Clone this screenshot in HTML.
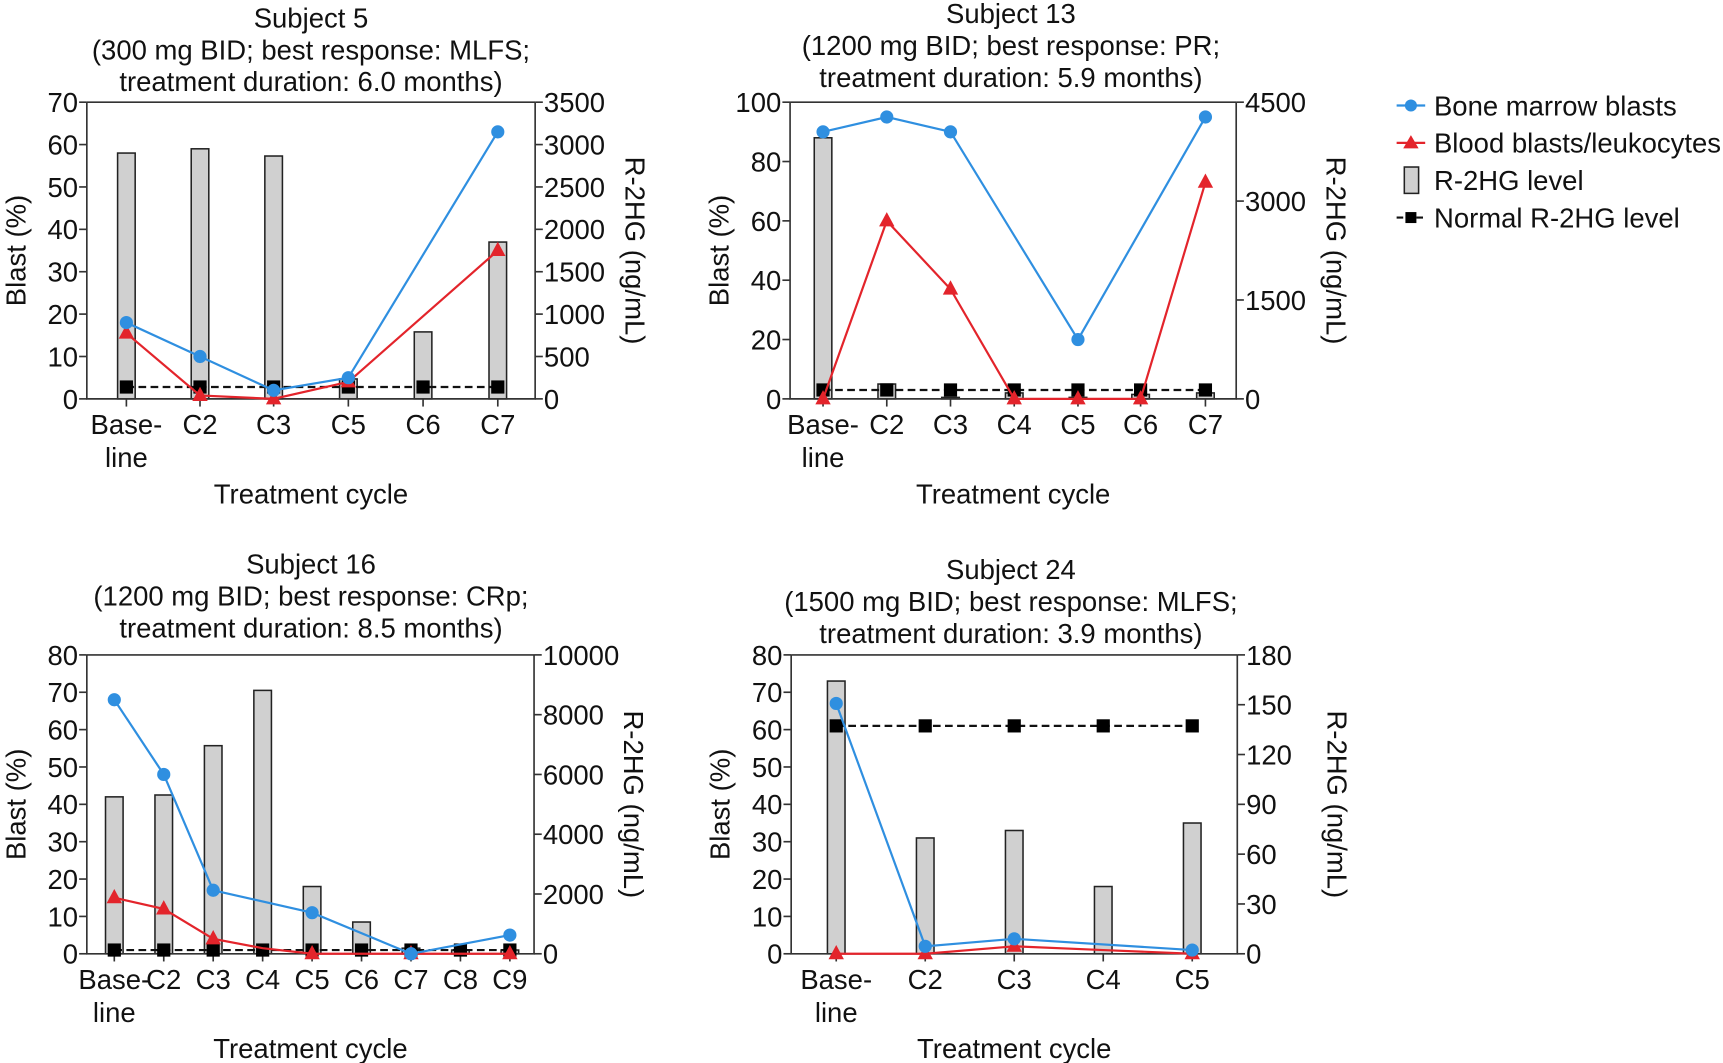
<!DOCTYPE html>
<html><head><meta charset="utf-8"><style>
html,body{margin:0;padding:0;background:#fff;}
svg{display:block;}
text{font-family:"Liberation Sans",Arial,sans-serif;fill:#111;}
</style></head><body>
<svg id="s" width="1723" height="1063" viewBox="0 0 1568 967.4" xmlns="http://www.w3.org/2000/svg"></svg>
<script>
const S=document.getElementById('s');let h='';
const BL='#2f8fe0',RD='#e3242b',FS=25;
function chart(c){
 const {L,R,T,B,cats,lmax,lstep,rmax,rstep,bars,norm,blue,red,title,tx,ty}=c;
 const yv=v=>B-(v/lmax)*(B-T);
 title.forEach((t,i)=>h+=`<text x="${tx}" y="${ty+i*29}" font-size="${FS}" text-anchor="middle">${t}</text>`);
 bars.forEach((v,i)=>{if(v==null)return;const x=cats[i].x;h+=`<rect x="${x-8}" y="${yv(v)}" width="16" height="${B-yv(v)}" fill="#d0d0d0" stroke="#222" stroke-width="1.4"/>`;});
 h+=`<path d="M${L},${T}H${R}M${L},${T}V${B}H${R}V${T}" fill="none" stroke="#333" stroke-width="1.5"/>`;
 for(let v=0;v<=lmax+1e-9;v+=lstep){const y=yv(v);h+=`<line x1="${L-7}" x2="${L}" y1="${y}" y2="${y}" stroke="#333" stroke-width="1.5"/><text x="${L-8}" y="${y+9}" font-size="${FS}" text-anchor="end">${v}</text>`;}
 for(let v=0;v<=rmax+1e-9;v+=rstep){const y=B-(v/rmax)*(B-T);h+=`<line x1="${R}" x2="${R+7}" y1="${y}" y2="${y}" stroke="#333" stroke-width="1.5"/><text x="${R+8}" y="${y+9}" font-size="${FS}">${v}</text>`;}
 cats.forEach(c=>{h+=`<line x1="${c.x}" x2="${c.x}" y1="${B}" y2="${B+7}" stroke="#333" stroke-width="1.5"/>`;
  if(c.l=='Base'){h+=`<text x="${c.x}" y="${B+32}" font-size="${FS}" text-anchor="middle">Base-</text><text x="${c.x}" y="${B+62}" font-size="${FS}" text-anchor="middle">line</text>`;}
  else h+=`<text x="${c.x}" y="${B+32}" font-size="${FS}" text-anchor="middle">${c.l}</text>`;});
 const mx=(L+R)/2;
 h+=`<text x="${mx}" y="${B+95}" font-size="${FS}" text-anchor="middle">Treatment cycle</text>`;
 h+=`<text transform="translate(${L-56},${(T+B)/2}) rotate(-90)" font-size="${FS}" text-anchor="middle">Blast (%)</text>`;
 h+=`<text transform="translate(${R+82},${(T+B)/2}) rotate(90)" font-size="${FS}" text-anchor="middle">R-2HG (ng/mL)</text>`;
 const np=cats.map(c=>[c.x,yv(norm)]);
 h+=`<polyline points="${np.map(p=>p.join(',')).join(' ')}" fill="none" stroke="#111" stroke-width="2" stroke-dasharray="7,4"/>`;
 np.forEach(p=>h+=`<rect x="${p[0]-6}" y="${p[1]-6}" width="12" height="12" fill="#000"/>`);
 const rp=[];red.forEach((v,i)=>{if(v!=null)rp.push([cats[i].x,yv(v),red.m?red.m[i]:1]);});
 h+=`<polyline points="${rp.map(p=>p[0]+','+p[1]).join(' ')}" fill="none" stroke="${RD}" stroke-width="2"/>`;
 rp.forEach(p=>{if(p[2])h+=`<polygon points="${p[0]},${p[1]-8} ${p[0]-7},${p[1]+5} ${p[0]+7},${p[1]+5}" fill="${RD}"/>`;});
 const bp=[];blue.forEach((v,i)=>{if(v!=null)bp.push([cats[i].x,yv(v)]);});
 h+=`<polyline points="${bp.map(p=>p.join(',')).join(' ')}" fill="none" stroke="${BL}" stroke-width="2"/>`;
 bp.forEach(p=>h+=`<circle cx="${p[0]}" cy="${p[1]}" r="6" fill="${BL}"/>`);
}
const C=(xs,ls)=>xs.map((x,i)=>({x,l:ls[i]}));
chart({L:79,R:487,T:93,B:363,cats:C([115,182,249,317,385,453],['Base','C2','C3','C5','C6','C7']),
 lmax:70,lstep:10,rmax:3500,rstep:500,bars:[58,59,57.3,4.7,15.8,37],norm:2.8,
 blue:[18,10,2,5,null,63],red:[15.5,0.8,0,4,null,35],
 title:['Subject 5','(300 mg BID; best response: MLFS;','treatment duration: 6.0 months)'],tx:283,ty:25});
chart({L:719,R:1125,T:93,B:363,cats:C([749,807,865,923,981,1038,1097],['Base','C2','C3','C4','C5','C6','C7']),
 lmax:100,lstep:20,rmax:4500,rstep:1500,bars:[88,5,0.5,2,0.5,1.5,2],norm:3,
 blue:[90,95,90,null,20,null,95],red:[0,60,37,0,0,0,73],
 title:['Subject 13','(1200 mg BID; best response: PR;','treatment duration: 5.9 months)'],tx:920,ty:21});
const r3=[15,12,4,1.5,0,0,0,0,0];r3.m=[1,1,1,0,1,0,1,0,1];
chart({L:79,R:486,T:596,B:868,cats:C([104,149,194,239,284,329,374,419,464],['Base','C2','C3','C4','C5','C6','C7','C8','C9']),
 lmax:80,lstep:10,rmax:10000,rstep:2000,bars:[42,42.5,55.7,70.5,18,8.5,1.5,1,1],norm:1,
 blue:[68,48,17,null,11,null,0,null,5],red:r3,
 title:['Subject 16','(1200 mg BID; best response: CRp;','treatment duration: 8.5 months)'],tx:283,ty:522});
const r4=[0,0,2,1,0];r4.m=[1,1,1,0,1];
chart({L:720,R:1126,T:596,B:868,cats:C([761,842,923,1004,1085],['Base','C2','C3','C4','C5']),
 lmax:80,lstep:10,rmax:180,rstep:30,bars:[73,31,33,18,35],norm:61,
 blue:[67,2,4,null,1],red:r4,
 title:['Subject 24','(1500 mg BID; best response: MLFS;','treatment duration: 3.9 months)'],tx:920,ty:527});
const ly=[96,130,164,198];
h+=`<line x1="1271" x2="1297" y1="${ly[0]}" y2="${ly[0]}" stroke="${BL}" stroke-width="2"/><circle cx="1284" cy="${ly[0]}" r="5.5" fill="${BL}"/>`;
h+=`<line x1="1271" x2="1297" y1="${ly[1]}" y2="${ly[1]}" stroke="${RD}" stroke-width="2"/><polygon points="1284,${ly[1]-7} 1277,${ly[1]+5} 1291,${ly[1]+5}" fill="${RD}"/>`;
h+=`<rect x="1278" y="${ly[2]-12}" width="13" height="24" fill="#d0d0d0" stroke="#222" stroke-width="1.4"/>`;
h+=`<line x1="1271" x2="1297" y1="${ly[3]}" y2="${ly[3]}" stroke="#111" stroke-width="2" stroke-dasharray="6,3"/><rect x="1279" y="${ly[3]-5}" width="10" height="10" fill="#000"/>`;
['Bone marrow blasts','Blood blasts/leukocytes','R-2HG level','Normal R-2HG level'].forEach((t,i)=>h+=`<text x="1305" y="${ly[i]+9}" font-size="${FS}">${t}</text>`);
S.innerHTML=h;
</script>
</body></html>
